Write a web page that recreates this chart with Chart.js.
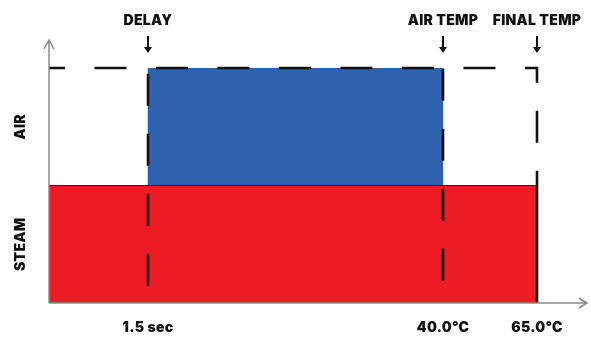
<!DOCTYPE html>
<html>
<head>
<meta charset="utf-8">
<script src="https://cdn.jsdelivr.net/npm/chart.js"></script>
<style>
html,body{margin:0;padding:0;background:#fff;}
canvas{display:block;}
</style>
</head>
<body>
<canvas id="c" width="591" height="338"></canvas>
<script>
// ---- data ----
const categories = ['AIR', 'STEAM'];
const airSpan = [20.3, 80.7];
const steamSpan = [0, 100];
const markerValues = [20.3, 80.7, 100];
const topLabels = ['DELAY', 'AIR TEMP', 'FINAL TEMP'];
const bottomLabels = ['1.5 sec', '40.0°C', '65.0°C'];

const FONT = '900 14px Inter, "Open Sans", sans-serif';
const vDashOffsets = [53, 58, 16];

const overlay = {
  id: 'overlay',
  afterDatasetsDraw(chart) {
    const ctx = chart.ctx;
    const x = chart.scales.x, y = chart.scales.y;
    const a = chart.chartArea;
    const x0 = x.getPixelForValue(0);
    const xEnd = x.getPixelForValue(100);
    const yBottom = a.bottom;
    const yTop = a.top;
    const mid = (y.getPixelForValue(0) + y.getPixelForValue(1)) / 2;
    ctx.save();
    // boundary line between bars
    ctx.strokeStyle = '#4a1518';
    ctx.lineWidth = 1.2;
    ctx.beginPath();
    ctx.moveTo(x0, mid); ctx.lineTo(xEnd, mid);
    ctx.stroke();
    // solid right edge of steam bar
    ctx.strokeStyle = '#111';
    ctx.lineWidth = 2.6;
    ctx.beginPath();
    ctx.moveTo(Math.round(xEnd), mid); ctx.lineTo(Math.round(xEnd), yBottom);
    ctx.stroke();
    // dashed lines
    ctx.setLineDash([32, 29.5]);
    ctx.lineDashOffset = 16;
    ctx.beginPath();
    ctx.moveTo(x0, yTop); ctx.lineTo(xEnd, yTop);
    ctx.stroke();
    ctx.setLineDash([32, 28]);
    markerValues.forEach((v, i) => {
      const px = Math.round(x.getPixelForValue(v));
      ctx.lineDashOffset = vDashOffsets[i];
      ctx.beginPath();
      ctx.moveTo(px, yTop - 1.3); ctx.lineTo(px, i === 2 ? mid : yBottom);
      ctx.stroke();
    });
    ctx.setLineDash([]);
    // axes
    ctx.strokeStyle = '#8a8a8a';
    ctx.lineWidth = 1.5;
    ctx.beginPath();
    ctx.moveTo(x0, yBottom); ctx.lineTo(x0, 40);
    ctx.moveTo(x0 - 5, 49); ctx.lineTo(x0, 40); ctx.lineTo(x0 + 5, 49);
    ctx.moveTo(x0, yBottom); ctx.lineTo(587, yBottom);
    ctx.moveTo(579, yBottom - 5); ctx.lineTo(587, yBottom); ctx.lineTo(579, yBottom + 5);
    ctx.stroke();
    // labels
    ctx.fillStyle = '#111';
    ctx.font = FONT;
    ctx.letterSpacing = '0.3px';
    ctx.textAlign = 'center';
    ctx.textBaseline = 'middle';
    markerValues.forEach((v, i) => {
      const px = Math.round(x.getPixelForValue(v));
      ctx.fillText(topLabels[i], px, 21);
      ctx.fillText(bottomLabels[i], px, 328);
      // down arrow
      ctx.strokeStyle = '#111';
      ctx.lineWidth = 2;
      ctx.beginPath();
      ctx.moveTo(px, 36); ctx.lineTo(px, 48);
      ctx.stroke();
      ctx.beginPath();
      ctx.moveTo(px - 4, 47); ctx.lineTo(px + 4, 47); ctx.lineTo(px, 53);
      ctx.closePath(); ctx.fill();
    });
    categories.forEach((c, i) => {
      const py = y.getPixelForValue(i);
      ctx.save();
      ctx.translate(21, py);
      ctx.rotate(-Math.PI / 2);
      ctx.fillText(c, 0, 0);
      ctx.restore();
    });
    ctx.restore();
  }
};

new Chart(document.getElementById('c'), {
  type: 'bar',
  data: {
    labels: categories,
    datasets: [{
      data: [airSpan, steamSpan],
      backgroundColor: ['#2f62ae', '#ed1c24'],
      borderWidth: 0,
      barPercentage: 1,
      categoryPercentage: 1
    }]
  },
  options: {
    indexAxis: 'y',
    responsive: false,
    animation: false,
    layout: { padding: { left: 49, right: 54, top: 68, bottom: 35 } },
    plugins: { legend: { display: false }, tooltip: { enabled: false } },
    scales: {
      x: { type: 'linear', min: 0, max: 100, display: false },
      y: { type: 'category', display: false, offset: true }
    }
  },
  plugins: [overlay]
});
</script>
</body>
</html>
